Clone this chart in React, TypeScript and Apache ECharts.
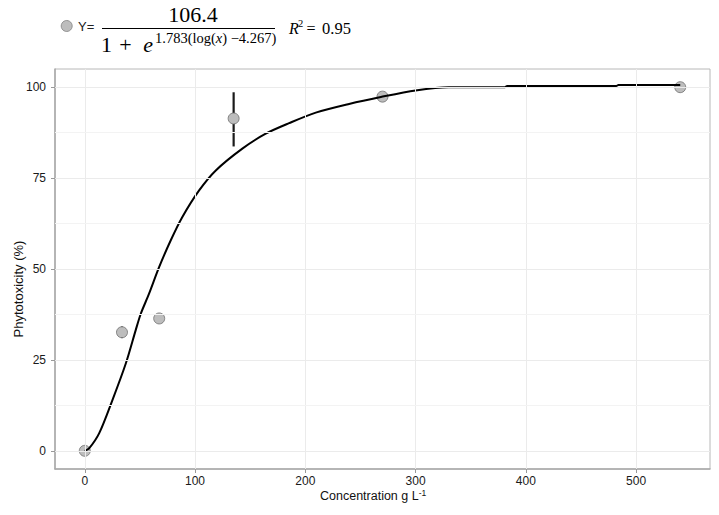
import React, { useEffect, useRef } from "react";
import * as echarts from "echarts";

// Observed data points (concentration, phytotoxicity %)
const pointX = [0, 33.75, 67.5, 135, 270, 540];
const pointY = [0, 32.6, 36.4, 91.4, 97.4, 100];
const errLow = [0, 31.0, 36.0, 83.7, 97.0, 100];
const errHigh = [0, 34.2, 36.8, 98.6, 97.8, 100];

// Fitted curve
const curveX = [0, 3.9, 13, 25, 37.2, 46.2, 50.8, 58.3, 67.4, 78, 88.5, 103.7, 118.8, 142.9, 164.1, 185.3, 209.5, 239.7, 268.5, 300, 330, 381, 383, 482, 484, 540];
const curveY = [0, 0.66, 4.8, 13.9, 24.0, 33.2, 37.7, 43.2, 50.5, 57.9, 64.3, 71.6, 77.1, 83.1, 87.2, 90.1, 93.0, 95.4, 97.3, 99.1, 100.0, 100.0, 100.3, 100.3, 100.6, 100.6];

const xTicks = [0, 100, 200, 300, 400, 500];
const yTicks = [0, 25, 50, 75, 100];
const yMinor = [12.5, 37.5, 62.5, 87.5];

const SANS = '"Liberation Sans", Arial, sans-serif';
const SERIF = '"Liberation Serif", "DejaVu Serif", serif';

export default function App() {
  const ref = useRef<HTMLDivElement>(null);
  useEffect(() => {
    if (!ref.current) return;
    const chart = echarts.init(ref.current, undefined, { renderer: "svg" });

    const points = pointX.map((x, i) => [x, pointY[i]]);
    const bars = pointX.map((x, i) => [x, errLow[i], errHigh[i]]);
    const curve = curveX.map((x, i) => [x, curveY[i]]);

    const gridLines: any[] = [
      ...xTicks.map((v) => ({ xAxis: v, lineStyle: { color: "#ebebeb", width: 1, type: "solid" } })),
      ...yTicks.map((v) => ({ yAxis: v, lineStyle: { color: "#ebebeb", width: 1, type: "solid" } })),
      ...yMinor.map((v) => ({ yAxis: v, lineStyle: { color: "#f3f3f3", width: 1, type: "solid" } })),
    ];

    const option: any = {
      animation: false,
      backgroundColor: "#ffffff",
      grid: {
        left: 55,
        top: 69,
        width: 655,
        height: 400,
        show: true,
        borderColor: "#b8b8b8",
        borderWidth: 1,
        backgroundColor: "transparent",
        containLabel: false,
        outerBoundsMode: "none",
      },
      xAxis: {
        type: "value",
        min: -27,
        max: 567,
        axisLine: { show: true, onZero: false, lineStyle: { color: "#a8a8a8", width: 1.5 } },
        axisTick: { show: true, customValues: xTicks, length: 4, lineStyle: { color: "#999999" } },
        axisLabel: { customValues: xTicks, margin: 6, fontSize: 12, color: "#1a1a1a", fontFamily: SANS },
        splitLine: { show: false },
      },
      yAxis: {
        type: "value",
        min: -5,
        max: 105,
        axisLine: { show: true, onZero: false, lineStyle: { color: "#a8a8a8", width: 1.5 } },
        axisTick: { show: true, customValues: yTicks, length: 4, lineStyle: { color: "#999999" } },
        axisLabel: { customValues: yTicks, margin: 9, fontSize: 12, color: "#1a1a1a", fontFamily: SANS },
        splitLine: { show: false },
      },
      series: [
        {
          type: "line",
          data: [[0, 0]],
          symbol: "none",
          lineStyle: { opacity: 0 },
          silent: true,
          z: 1,
          markLine: {
            silent: true,
            symbol: ["none", "none"],
            label: { show: false },
            emphasis: { disabled: true },
            animation: false,
            data: gridLines,
          },
        },
        {
          type: "custom",
          data: bars,
          encode: { x: 0, y: [1, 2] },
          z: 2,
          renderItem: (params: any, api: any) => {
            const p1 = api.coord([api.value(0), api.value(1)]);
            const p2 = api.coord([api.value(0), api.value(2)]);
            return {
              type: "line",
              shape: { x1: p1[0], y1: p1[1], x2: p2[0], y2: p2[1] },
              style: { stroke: "#1a1a1a", lineWidth: 2.2 },
            };
          },
        },
        {
          type: "scatter",
          data: points,
          symbol: "circle",
          symbolSize: 11,
          z: 3,
          itemStyle: { color: "#bdbdbd", borderColor: "#707070", borderWidth: 0.8, opacity: 1 },
        },
        {
          type: "line",
          data: curve,
          showSymbol: false,
          symbol: "none",
          smooth: 0.3,
          z: 4,
          lineStyle: { color: "#000000", width: 2 },
        },
      ],
      graphic: [
        { type: "circle", shape: { cx: 66.7, cy: 26, r: 5.5 }, style: { fill: "#bdbdbd", stroke: "#808080", lineWidth: 0.8 } },
        { type: "text", x: 78, y: 26.5, style: { text: "Y=", fontSize: 13, fontFamily: SANS, fill: "#222", verticalAlign: "middle", align: "left" } },
        { type: "text", x: 193, y: 14, style: { text: "106.4", fontSize: 22, fontFamily: SERIF, fill: "#000", verticalAlign: "middle", align: "center" } },
        { type: "line", shape: { x1: 102, y1: 28.5, x2: 275, y2: 28.5 }, style: { stroke: "#000", lineWidth: 1 } },
        { type: "text", x: 106.5, y: 44, style: { text: "1", fontSize: 22, fontFamily: SERIF, fill: "#000", verticalAlign: "middle", align: "center" } },
        { type: "text", x: 125.5, y: 44, style: { text: "+", fontSize: 22, fontFamily: SERIF, fill: "#000", verticalAlign: "middle", align: "center" } },
        { type: "text", x: 148, y: 44, style: { text: "e", fontSize: 22, fontStyle: "italic", fontFamily: SERIF, fill: "#000", verticalAlign: "middle", align: "center" } },
        {
          type: "text",
          x: 155,
          y: 37.5,
          style: {
            text: "{n|1.783(log(}{i|x}{n|) −4.267)}",
            verticalAlign: "middle",
            align: "left",
            rich: {
              n: { fontSize: 14.5, fontFamily: SERIF, fill: "#000" },
              i: { fontSize: 14.5, fontFamily: SERIF, fontStyle: "italic", fill: "#000" },
            },
          },
        },
        { type: "text", x: 294, y: 28, style: { text: "R", fontSize: 16, fontStyle: "italic", fontFamily: SERIF, fill: "#000", verticalAlign: "middle", align: "center" } },
        { type: "text", x: 300.5, y: 23.5, style: { text: "2", fontSize: 10.5, fontFamily: SERIF, fill: "#000", verticalAlign: "middle", align: "center" } },
        { type: "text", x: 311, y: 28, style: { text: "=", fontSize: 16, fontFamily: SERIF, fill: "#000", verticalAlign: "middle", align: "center" } },
        { type: "text", x: 322, y: 28, style: { text: "0.95", fontSize: 16.5, fontFamily: SERIF, fill: "#000", verticalAlign: "middle", align: "left" } },
        {
          type: "text",
          x: 18,
          y: 289,
          rotation: Math.PI / 2,
          style: { text: "Phytotoxicity (%)", fontSize: 13, fontFamily: SANS, fill: "#111", verticalAlign: "middle", align: "center" },
        },
        {
          type: "text",
          x: 320,
          y: 496,
          style: {
            text: "{a|Concentration g L}{s|-1}",
            verticalAlign: "middle",
            align: "left",
            rich: {
              a: { fontSize: 12.5, fontFamily: SANS, fill: "#111" },
              s: { fontSize: 8.5, fontFamily: SANS, fill: "#111", verticalAlign: "top", padding: [0, 0, 6, 0] },
            },
          },
        },
      ],
    };

    chart.setOption(option);
    return () => chart.dispose();
  }, []);

  return (
    <div
      ref={ref}
      style={{ position: "fixed", left: 0, top: 0, width: 719, height: 515, background: "#fff" }}
    />
  );
}
